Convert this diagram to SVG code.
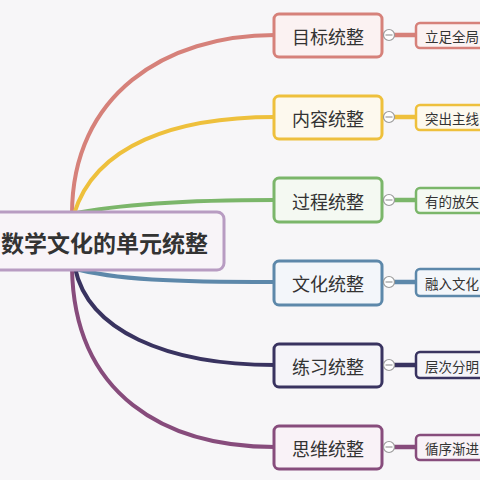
<svg xmlns="http://www.w3.org/2000/svg" width="480" height="480" viewBox="0 0 480 480">
<style>
.t{font-family:"Noto Sans CJK SC","Noto Sans",sans-serif;fill:#333;text-anchor:middle;dominant-baseline:central}
.b{font-size:18px}
.l{font-size:13.5px;text-anchor:start}
.c{fill:none;stroke-width:4;stroke-linecap:round}
.col{fill:#fff;stroke:#9a9a9a;stroke-width:1.2}
.m{stroke:#9a9a9a;stroke-width:1.2}
</style>
<rect width="480" height="480" fill="#f7f6f8"/>
<g id="connectors">
<path class="c" stroke="#d6817a" d="M72,214 C72,95 165,35 275,35"/>
<path class="c" stroke="#eec03c" d="M74,214 C95,145 175,117 275,117"/>
<path class="c" stroke="#7bb66a" d="M72,214 C115,205 175,200 275,200"/>
<path class="c" stroke="#5d88aa" d="M72,268 C115,280 175,282 275,282"/>
<path class="c" stroke="#393360" d="M75,268 C88,330 165,365 275,365"/>
<path class="c" stroke="#874c7c" d="M72,268 C74,395 165,447 275,447"/>
<g stroke-width="4.5">
<line x1="382" y1="35" x2="417" y2="35" stroke="#d6817a"/>
<line x1="382" y1="117" x2="417" y2="117" stroke="#eec03c"/>
<line x1="382" y1="200" x2="417" y2="200" stroke="#7bb66a"/>
<line x1="382" y1="282" x2="417" y2="282" stroke="#5d88aa"/>
<line x1="382" y1="365" x2="417" y2="365" stroke="#393360"/>
<line x1="382" y1="447" x2="417" y2="447" stroke="#874c7c"/>
</g>
</g>
<g id="root">
<rect x="-10" y="212" width="234" height="58" rx="7" fill="#f8f4f8" stroke="#b89cc2" stroke-width="3"/>
<text class="t" x="1" y="242" style="font-size:23px;font-weight:bold;text-anchor:start" fill="#2a2a2a">数学文化的单元统整</text>
</g>
<g id="n1">
<rect x="274" y="14" width="108" height="43" rx="5" fill="#fbf2f2" stroke="#d6817a" stroke-width="3"/>
<text class="t b" x="328" y="35.5">目标统整</text>
<circle class="col" cx="389" cy="35" r="5.5"/><line class="m" x1="385.5" y1="35" x2="392.5" y2="35"/>
</g>
<g id="l1">
<rect x="416" y="23" width="80" height="25" rx="4" fill="#fbf2f2" stroke="#d6817a" stroke-width="2.5"/>
<text class="t l" x="425" y="35.5">立足全局</text>
</g>
<g id="n2">
<rect x="274" y="96" width="108" height="43" rx="5" fill="#fdf9ee" stroke="#eec03c" stroke-width="3"/>
<text class="t b" x="328" y="117.5">内容统整</text>
<circle class="col" cx="389" cy="117" r="5.5"/><line class="m" x1="385.5" y1="117" x2="392.5" y2="117"/>
</g>
<g id="l2">
<rect x="416" y="105" width="80" height="25" rx="4" fill="#fdf9ee" stroke="#eec03c" stroke-width="2.5"/>
<text class="t l" x="425" y="117.5">突出主线</text>
</g>
<g id="n3">
<rect x="274" y="178" width="108" height="44" rx="5" fill="#f4f9f2" stroke="#7bb66a" stroke-width="3"/>
<text class="t b" x="328" y="200.5">过程统整</text>
<circle class="col" cx="389" cy="200" r="5.5"/><line class="m" x1="385.5" y1="200" x2="392.5" y2="200"/>
</g>
<g id="l3">
<rect x="416" y="188" width="80" height="25" rx="4" fill="#f4f9f2" stroke="#7bb66a" stroke-width="2.5"/>
<text class="t l" x="425" y="200.5">有的放矢</text>
</g>
<g id="n4">
<rect x="274" y="261" width="108" height="44" rx="5" fill="#f3f6fa" stroke="#5d88aa" stroke-width="3"/>
<text class="t b" x="328" y="283">文化统整</text>
<circle class="col" cx="389" cy="282" r="5.5"/><line class="m" x1="385.5" y1="282" x2="392.5" y2="282"/>
</g>
<g id="l4">
<rect x="416" y="269" width="80" height="27" rx="4" fill="#f3f6fa" stroke="#5d88aa" stroke-width="2.5"/>
<text class="t l" x="425" y="282.5">融入文化</text>
</g>
<g id="n5">
<rect x="274" y="344" width="108" height="43" rx="5" fill="#f5f4f9" stroke="#393360" stroke-width="3"/>
<text class="t b" x="328" y="365.5">练习统整</text>
<circle class="col" cx="389" cy="365" r="5.5"/><line class="m" x1="385.5" y1="365" x2="392.5" y2="365"/>
</g>
<g id="l5">
<rect x="416" y="352" width="80" height="26" rx="4" fill="#f5f4f9" stroke="#393360" stroke-width="2.5"/>
<text class="t l" x="425" y="365.5">层次分明</text>
</g>
<g id="n6">
<rect x="274" y="426" width="108" height="43" rx="5" fill="#f9f2f7" stroke="#874c7c" stroke-width="3"/>
<text class="t b" x="328" y="447.5">思维统整</text>
<circle class="col" cx="389" cy="447" r="5.5"/><line class="m" x1="385.5" y1="447" x2="392.5" y2="447"/>
</g>
<g id="l6">
<rect x="416" y="435" width="80" height="25" rx="4" fill="#f9f2f7" stroke="#874c7c" stroke-width="2.5"/>
<text class="t l" x="425" y="447.5">循序渐进</text>
</g>
</svg>
